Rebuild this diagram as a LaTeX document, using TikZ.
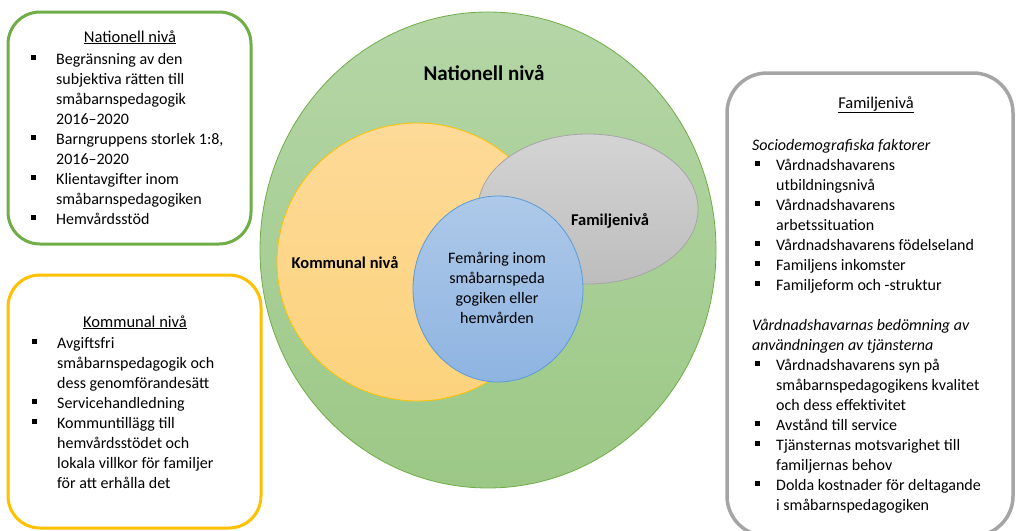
\documentclass[tikz,border=0pt]{standalone}
\usepackage{fontspec}
\setmainfont{Carlito}
\usetikzlibrary{shapes.geometric}
\definecolor{natgreen}{HTML}{70AD47}
\definecolor{komyellow}{HTML}{FFC000}
\definecolor{famgray}{HTML}{A5A5A5}
\definecolor{bluebord}{HTML}{5B9BD5}
\definecolor{greentop}{HTML}{B5D6A7}
\definecolor{greenbot}{HTML}{9CC886}
\definecolor{orangetop}{HTML}{FDDA98}
\definecolor{orangebot}{HTML}{FCD27C}
\definecolor{graytop}{HTML}{D4D4D4}
\definecolor{graybot}{HTML}{BDBDBD}
\definecolor{bluetop}{HTML}{AEC9E9}
\definecolor{bluebot}{HTML}{8EB4E1}
\newcommand\sqb{\raisebox{4.3pt}{\rule{5pt}{5pt}}}
\tikzset{
  infobox/.style={line width=3pt, rounded corners=32pt},
  listtext/.style={anchor=north west, inner sep=0pt, align=left, font=\fontsize{16}{20}\selectfont},
  titletext/.style={anchor=base, inner sep=0pt, font=\fontsize{16.5}{20}\selectfont},
  circlabel/.style={inner sep=0pt, font=\bfseries\fontsize{16.5}{19}\selectfont},
}
\begin{document}
\begin{tikzpicture}[x=1pt,y=-1pt]
\useasboundingbox (0,0) rectangle (1016,530);
\begin{scope}
\clip (0,0) rectangle (1016,530);
% boxes
\draw[infobox, draw=natgreen, fill=white] (8,12) rectangle (251,244);
\draw[infobox, draw=komyellow, fill=white] (8,275) rectangle (261,528);
\draw[infobox, draw=famgray, line width=3.5pt, rounded corners=40pt, fill=white] (727,73) rectangle (1013,536);
% Venn
\draw[natgreen, line width=0.8pt, top color=greentop, bottom color=greenbot] (488,250) ellipse [x radius=228, y radius=238];
\draw[komyellow, line width=0.8pt, top color=orangetop, bottom color=orangebot] (417,262) ellipse [x radius=140, y radius=139];
\draw[famgray, line width=0.8pt, top color=graytop, bottom color=graybot] (588,209) ellipse [x radius=110, y radius=75];
\draw[bluebord, line width=0.8pt, top color=bluetop, bottom color=bluebot] (498,289) ellipse [x radius=85, y radius=93];
\end{scope}
% Venn labels
\node[inner sep=0pt, font=\bfseries\fontsize{21}{24}\selectfont] (natlabel) at (484,73) {Nationell nivå};
\node[circlabel] (komlabel) at (345,263) {Kommunal nivå};
\node[circlabel] (famlabel) at (610,221) {Familjenivå};
\node[inner sep=0pt, align=center, font=\fontsize{16}{20}\selectfont] (centerlabel) at (497,288) {Femåring inom\\småbarnspeda\\gogiken eller\\hemvården};
% Box 1
\node[titletext] (nattitle) at (130,42) {\underline{Nationell nivå}};
\node[listtext] (natlist) at (31,50) {\begin{tabular}{@{}p{25pt}@{}l@{}}
\sqb & Begränsning av den\\
 & subjektiva rätten till\\
 & småbarnspedagogik\\
 & 2016–2020\\
\sqb & Barngruppens storlek 1:8,\\
 & 2016–2020\\
\sqb & Klientavgifter inom\\
 & småbarnspedagogiken\\
\sqb & Hemvårdsstöd
\end{tabular}};
% Box 2
\node[titletext] (komtitle) at (135,327) {\underline{Kommunal nivå}};
\node[listtext] (komlist) at (32,334) {\begin{tabular}{@{}p{25pt}@{}l@{}}
\sqb & Avgiftsfri\\
 & småbarnspedagogik och\\
 & dess genomförandesätt\\
\sqb & Servicehandledning\\
\sqb & Kommuntillägg till\\
 & hemvårdsstödet och\\
 & lokala villkor för familjer\\
 & för att erhålla det
\end{tabular}};
% Box 3
\node[titletext] (famtitle) at (876,108) {\underline{Familjenivå}};
\node[listtext] (famlist) at (755,136) {\begin{tabular}{@{}p{21pt}@{}l@{}}
\multicolumn{2}{@{}l@{}}{\hspace*{-3pt}\itshape Sociodemografiska faktorer}\\
\sqb & Vårdnadshavarens\\
 & utbildningsnivå\\
\sqb & Vårdnadshavarens\\
 & arbetssituation\\
\sqb & Vårdnadshavarens födelseland\\
\sqb & Familjens inkomster\\
\sqb & Familjeform och -struktur\\
 & \\
\multicolumn{2}{@{}l@{}}{\hspace*{-3pt}\itshape Vårdnadshavarnas bedömning av}\\
\multicolumn{2}{@{}l@{}}{\hspace*{-3pt}\itshape användningen av tjänsterna}\\
\sqb & Vårdnadshavarens syn på\\
 & småbarnspedagogikens kvalitet\\
 & och dess effektivitet\\
\sqb & Avstånd till service\\
\sqb & Tjänsternas motsvarighet till\\
 & familjernas behov\\
\sqb & Dolda kostnader för deltagande\\
 & i småbarnspedagogiken
\end{tabular}};
\end{tikzpicture}
\end{document}
